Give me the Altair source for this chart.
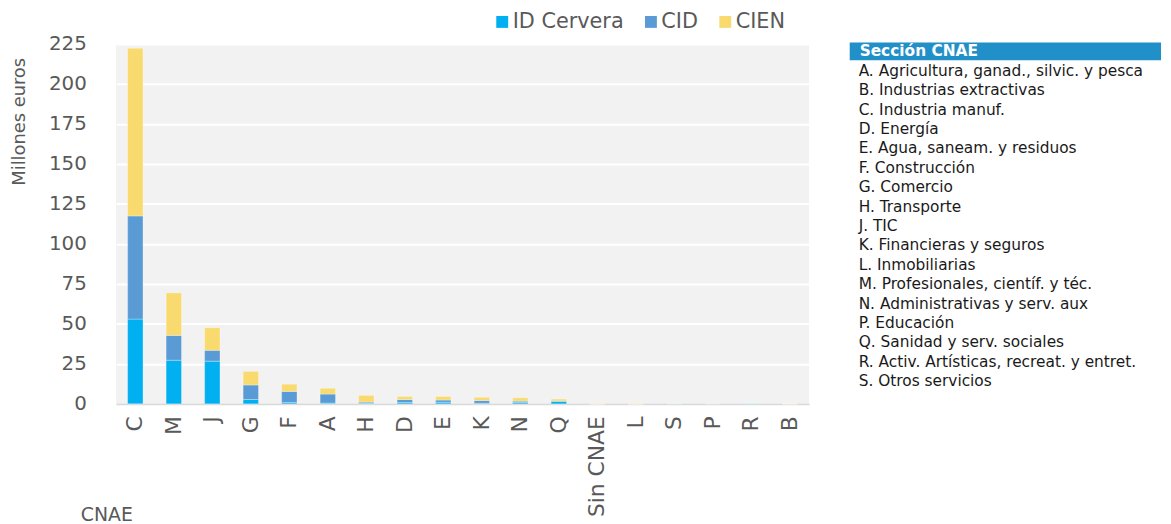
import altair as alt
import pandas as pd

# ---------------- data ----------------
categories = ["C", "M", "J", "G", "F", "A", "H", "D", "E", "K", "N", "Q",
              "Sin CNAE", "L", "S", "P", "R", "B"]
series_names = ["ID Cervera", "CID", "CIEN"]
series_colors = ["#00B0F0", "#5B9BD5", "#F9DA6E"]
id_cervera = [53.0, 27.3, 26.7, 2.7, 0.8, 0.5, 0.3, 0.8, 1.0, 0.4, 0.8, 1.6,
              0.0, 0.0, 0.3, 0.1, 0.4, 0.0]
cid = [64.5, 15.5, 6.8, 9.1, 7.0, 5.6, 0.8, 1.9, 1.4, 1.7, 0.9, 0.2,
       0.0, 0.0, 0.0, 0.1, 0.0, 0.0]
cien = [104.8, 26.6, 14.1, 8.5, 4.5, 3.6, 4.2, 1.9, 2.2, 2.0, 2.1, 1.2,
        0.3, 0.3, 0.0, 0.1, 0.0, 0.2]
y_ticks = [0, 25, 50, 75, 100, 125, 150, 175, 200, 225]

table_header = "Sección CNAE"
table_rows = [
    "A. Agricultura, ganad., silvic. y pesca",
    "B. Industrias extractivas",
    "C. Industria manuf.",
    "D. Energía",
    "E. Agua, saneam. y residuos",
    "F. Construcción",
    "G. Comercio",
    "H. Transporte",
    "J. TIC",
    "K. Financieras y seguros",
    "L. Inmobiliarias",
    "M. Profesionales, científ. y téc.",
    "N. Administrativas y serv. aux",
    "P. Educación",
    "Q. Sanidad y serv. sociales",
    "R. Activ. Artísticas, recreat. y entret.",
    "S. Otros servicios",
]

# ---------------- tables ----------------
records = []
for i, c in enumerate(categories):
    for k, (name, vals) in enumerate(zip(series_names, [id_cervera, cid, cien])):
        records.append({"CNAE": c, "serie": name, "orden": k, "valor": vals[i]})
df = pd.DataFrame(records)

header_df = pd.DataFrame([{"fila": 0, "texto": table_header}])
rows_df = pd.DataFrame([{"fila": i + 1, "texto": t} for i, t in enumerate(table_rows)])

FONT = "DejaVu Sans"
GREY = "#595959"

# ---------------- bar chart ----------------
bars = alt.Chart(df).mark_bar(stroke="white", strokeWidth=0.6, strokeOpacity=0.5).encode(
    x=alt.X(
        "CNAE:N", sort=categories,
        scale=alt.Scale(paddingInner=0.6, paddingOuter=0.3),
        axis=alt.Axis(
            title="CNAE", labelAngle=270, labelFontSize=22, labelColor=GREY,
            labelFont=FONT, labelPadding=12, ticks=False, tickSize=0,
            domainColor="#D9D9D9", domainWidth=2, grid=False,
            titleX=-36, titleY=112, titleAlign="left", titleBaseline="middle",
            titleFontSize=19, titleColor=GREY, titleFontWeight="normal", titleFont=FONT,
        ),
    ),
    y=alt.Y(
        "valor:Q", stack="zero",
        scale=alt.Scale(domain=[0, 225], nice=False),
        axis=alt.Axis(
            title="Millones euros", values=y_ticks, labelFontSize=20, labelColor=GREY,
            labelFont=FONT, ticks=False, tickSize=0, labelPadding=30, domain=False,
            grid=True, gridColor="white", gridWidth=2,
            titleX=-97, titleY=78, titleAngle=270, titleAlign="center",
            titleBaseline="middle", titleFontSize=18, titleColor=GREY,
            titleFontWeight="normal", titleFont=FONT,
        ),
    ),
    color=alt.Color(
        "serie:N", sort=series_names,
        scale=alt.Scale(domain=series_names, range=series_colors),
        legend=alt.Legend(
            orient="none", legendX=379, legendY=-33, direction="horizontal",
            title=None, symbolType="square", symbolSize=144, symbolStrokeWidth=0,
            labelFontSize=21, labelColor=GREY, labelFont=FONT,
            columnPadding=16, labelOffset=0,
        ),
    ),
    order=alt.Order("orden:Q", sort="ascending"),
).properties(width=699, height=363, view=alt.ViewBackground(fill="#F2F2F2", strokeWidth=0))

# ---------------- side table ----------------
yscale = alt.Scale(domain=[-0.38, 18.17], reverse=True, nice=False, zero=False)

header_rect = alt.Chart(header_df).transform_calculate(
    y0="datum.fila - 0.46", y1="datum.fila + 0.46"
).mark_rect(color="#2190C8").encode(
    x=alt.value(0), x2=alt.value(314),
    y=alt.Y("y0:Q", scale=yscale, axis=None), y2="y1:Q",
)
header_text = alt.Chart(header_df).mark_text(
    align="left", baseline="middle", dx=10, font=FONT, fontSize=15.5,
    fontWeight="bold", color="white",
).encode(x=alt.value(0), y=alt.Y("fila:Q", scale=yscale, axis=None), text="texto:N")
rows_text = alt.Chart(rows_df).mark_text(
    align="left", baseline="middle", dx=9, font=FONT, fontSize=15.5, color="#1A1A1A",
).encode(x=alt.value(0), y=alt.Y("fila:Q", scale=yscale, axis=None), text="texto:N")

table = alt.layer(header_rect, header_text, rows_text).properties(
    width=314, height=363, view=alt.ViewBackground(strokeWidth=0)
)

chart = alt.hconcat(bars, table, spacing=41).properties(
    padding={"left": 3, "top": 1, "right": 2, "bottom": 12}
).configure_view(stroke="transparent").configure(font=FONT)

chart.save("out.html", embed_options={"renderer": "svg", "actions": False})
